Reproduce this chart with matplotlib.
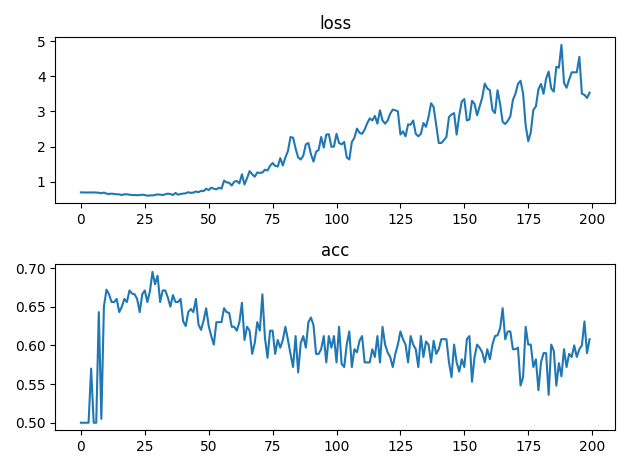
import matplotlib
matplotlib.use("Agg")
import matplotlib.pyplot as plt
import numpy as np

loss = [
    0.695, 0.695, 0.69, 0.695, 0.69, 0.695, 0.69, 0.685, 0.67, 0.69,
    0.66, 0.65, 0.66, 0.65, 0.64, 0.64, 0.62, 0.64, 0.64, 0.63,
    0.62, 0.62, 0.615, 0.62, 0.63, 0.62, 0.60, 0.61, 0.61, 0.62,
    0.64, 0.63, 0.62, 0.64, 0.66, 0.65, 0.62, 0.68, 0.63, 0.65,
    0.66, 0.67, 0.70, 0.68, 0.69, 0.72, 0.70, 0.74, 0.73, 0.80,
    0.76, 0.83, 0.80, 0.78, 0.83, 0.80, 1.03, 0.98, 0.97, 0.89,
    1.00, 1.02, 0.95, 1.21, 0.92, 1.10, 1.30, 1.21, 1.14, 1.26,
    1.25, 1.26, 1.34, 1.32, 1.45, 1.53, 1.45, 1.43, 1.67, 1.46,
    1.69, 1.87, 2.27, 2.25, 1.94, 1.69, 1.63, 1.74, 2.06, 2.10,
    1.78, 1.57, 1.85, 1.90, 2.27, 1.97, 2.34, 2.35, 1.99, 2.00,
    2.36, 2.10, 2.06, 2.13, 1.69, 1.63, 2.13, 2.25, 2.51, 2.39,
    2.36, 2.48, 2.66, 2.80, 2.74, 2.87, 2.65, 3.03, 2.74, 2.65,
    2.74, 2.93, 3.05, 3.03, 3.00, 2.34, 2.43, 2.29, 2.63, 2.62,
    2.74, 2.36, 2.29, 2.36, 2.67, 2.56, 2.84, 3.23, 3.12, 2.62,
    2.10, 2.10, 2.18, 2.27, 2.84, 2.91, 2.95, 2.34, 2.88, 3.28,
    3.35, 2.74, 2.77, 3.30, 3.21, 2.89, 3.14, 3.39, 3.79, 3.65,
    3.60, 3.04, 2.95, 3.60, 3.21, 2.70, 2.64, 2.73, 2.86, 3.32,
    3.50, 3.78, 3.87, 3.50, 2.60, 2.15, 2.40, 3.04, 3.14, 3.63,
    3.78, 3.50, 3.93, 4.13, 3.65, 3.56, 4.27, 4.24, 4.89, 3.81,
    3.67, 3.90, 4.11, 4.11, 4.11, 4.55, 3.50, 3.47, 3.38, 3.53,
]

acc = [
    0.5, 0.5, 0.5, 0.5, 0.57, 0.5, 0.5, 0.643, 0.505, 0.65,
    0.672, 0.666, 0.656, 0.656, 0.66, 0.643, 0.65, 0.66, 0.656, 0.671,
    0.667, 0.666, 0.66, 0.643, 0.666, 0.671, 0.656, 0.67, 0.695, 0.679,
    0.69, 0.656, 0.671, 0.671, 0.662, 0.65, 0.665, 0.656, 0.656, 0.66,
    0.631, 0.625, 0.643, 0.647, 0.643, 0.66, 0.627, 0.62, 0.632, 0.648,
    0.625, 0.612, 0.601, 0.63, 0.63, 0.63, 0.648, 0.643, 0.642, 0.624,
    0.624, 0.619, 0.63, 0.655, 0.607, 0.624, 0.619, 0.589, 0.603, 0.63,
    0.619, 0.666, 0.61, 0.584, 0.619, 0.619, 0.589, 0.607, 0.597, 0.607,
    0.624, 0.607, 0.589, 0.572, 0.612, 0.565, 0.603, 0.612, 0.597, 0.63,
    0.636, 0.626, 0.589, 0.589, 0.595, 0.612, 0.578, 0.612, 0.597, 0.612,
    0.578, 0.624, 0.576, 0.572, 0.601, 0.618, 0.572, 0.595, 0.591, 0.606,
    0.612, 0.578, 0.578, 0.578, 0.595, 0.585, 0.612, 0.578, 0.624, 0.601,
    0.591, 0.585, 0.572, 0.589, 0.601, 0.618, 0.608, 0.601, 0.578, 0.612,
    0.601, 0.595, 0.572, 0.612, 0.585, 0.605, 0.601, 0.578, 0.606, 0.589,
    0.595, 0.608, 0.608, 0.608, 0.578, 0.559, 0.601, 0.578, 0.566, 0.582,
    0.572, 0.608, 0.612, 0.553, 0.585, 0.601, 0.597, 0.591, 0.578, 0.595,
    0.582, 0.601, 0.612, 0.613, 0.622, 0.648, 0.608, 0.618, 0.618, 0.595,
    0.595, 0.597, 0.548, 0.559, 0.624, 0.601, 0.601, 0.572, 0.582, 0.542,
    0.578, 0.59, 0.59, 0.536, 0.601, 0.593, 0.548, 0.577, 0.56, 0.595,
    0.572, 0.589, 0.585, 0.6, 0.585, 0.595, 0.6, 0.631, 0.59, 0.608,
]

fig, axes = plt.subplots(2, 1, figsize=(6.3, 4.69), dpi=100)
axes[0].plot(np.arange(len(loss)), loss)
axes[0].set_title("loss")
axes[1].plot(np.arange(len(acc)), acc)
axes[1].set_title("acc")
fig.tight_layout()
fig.savefig("out.png", dpi=100)
